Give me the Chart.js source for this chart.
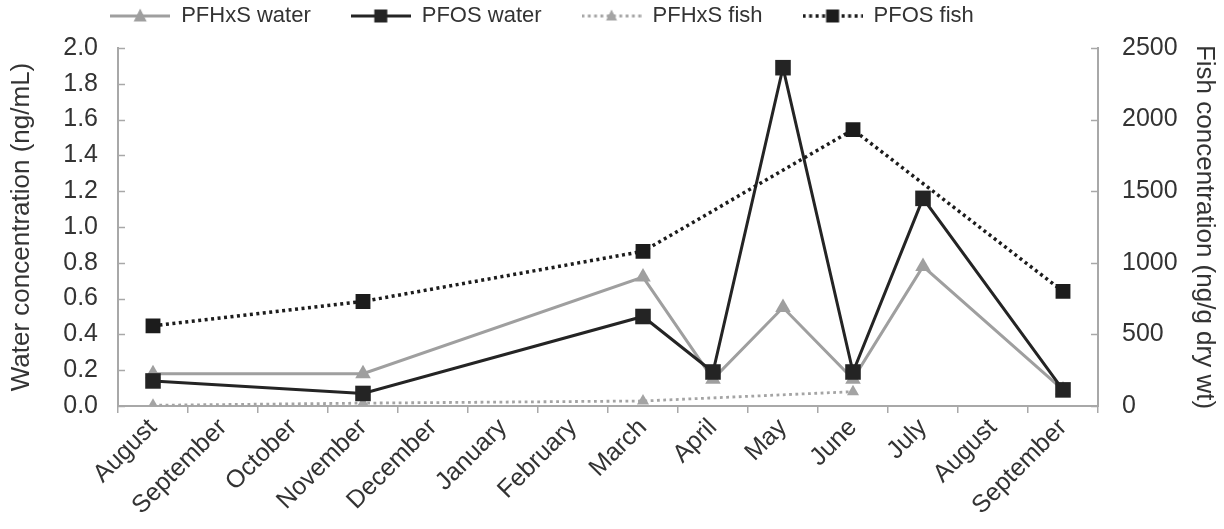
<!DOCTYPE html>
<html>
<head>
<meta charset="utf-8">
<script src="https://cdn.jsdelivr.net/npm/chart.js@4"></script>
<style>
  html, body { margin: 0; padding: 0; background: #fff; }
  #wrap { width: 1224px; height: 529px; }
</style>
</head>
<body>
<div id="wrap"><canvas id="c" width="1224" height="529"></canvas></div>
<script>
const categories = ['August','September','October','November','December','January','February','March','April','May','June','July','August','September'];
const pfhxsWater = [0.18, null, null, 0.18, null, null, null, 0.72, 0.15, 0.55, 0.15, 0.78, null, 0.09];
const pfosWater  = [0.14, null, null, 0.07, null, null, null, 0.50, 0.19, 1.89, 0.19, 1.16, null, 0.09];
const pfhxsFish  = [5, null, null, 20, null, null, null, 35, null, null, 100, null, null, null];
const pfosFish   = [560, null, null, 730, null, null, null, 1080, null, null, 1930, null, null, 800];
const seriesNames = ['PFHxS water', 'PFOS water', 'PFHxS fish', 'PFOS fish'];
const leftTitle = 'Water concentration (ng/mL)';
const rightTitle = 'Fish concentration (ng/g dry wt)';

const FONT = '"Liberation Sans", Arial, sans-serif';
const TEXT = '#333333';
const AXIS = '#a8a8a8';
const TICK_SIZE = 25;
const TITLE_SIZE = 26;
const LEGEND_PAD = 40;

function legendIcon(color, width, dash, shape, r) {
  const cv = document.createElement('canvas');
  cv.width = 60; cv.height = 18;
  const g = cv.getContext('2d');
  g.strokeStyle = color; g.lineWidth = width; g.setLineDash(dash);
  g.beginPath(); g.moveTo(0, 9); g.lineTo(60, 9); g.stroke();
  g.setLineDash([]);
  g.fillStyle = color;
  g.beginPath();
  if (shape === 'rect') {
    g.rect(30 - r, 9 - r, 2 * r, 2 * r);
  } else {
    g.moveTo(30, 9 - r - 1); g.lineTo(30 + r, 9 + r - 1); g.lineTo(30 - r, 9 + r - 1); g.closePath();
  }
  g.fill();
  return cv;
}

const styles = [
  { color: '#9f9f9f', width: 3, dash: [], shape: 'triangle', radius: 9, lr: 6.5 },
  { color: '#242424', width: 3, dash: [], shape: 'rect', radius: 11, lr: 6.5 },
  { color: '#a4a4a4', width: 2.8, dash: [2.8, 3.5], shape: 'triangle', radius: 7, lr: 5.5 },
  { color: '#1c1c1c', width: 3.5, dash: [3, 3.5], shape: 'rect', radius: 10.5, lr: 6.5 }
];
const icons = styles.map(s => legendIcon(s.color, s.width, s.dash, s.shape, s.lr));

const inwardTicks = {
  id: 'inwardTicks',
  afterDraw(chart) {
    const ctx = chart.ctx;
    ctx.save();
    ctx.strokeStyle = AXIS; ctx.lineWidth = 1.5;
    const y = chart.scales.y, y2 = chart.scales.y2;
    y.ticks.forEach(t => {
      const p = Math.round(y.getPixelForValue(t.value)) + 0.5;
      ctx.beginPath(); ctx.moveTo(y.right, p); ctx.lineTo(y.right + 7, p); ctx.stroke();
    });
    y2.ticks.forEach(t => {
      const p = Math.round(y2.getPixelForValue(t.value)) + 0.5;
      ctx.beginPath(); ctx.moveTo(y2.left, p); ctx.lineTo(y2.left - 7, p); ctx.stroke();
    });
    ctx.restore();
  }
};

const legendPlacement = {
  id: 'legendPlacement',
  beforeLayout(chart) {
    const lg = chart.legend;
    if (lg && !lg._patchedFit) {
      const orig = lg.fit.bind(lg);
      lg.fit = function () { orig(); this.height = 48; };
      lg._patchedFit = true;
    }
  },
  afterLayout(chart) {
    const lg = chart.legend;
    if (lg) {
      lg.right -= 140;
      lg.top = -35;
      lg.bottom = 44;
    }
  }
};

const datasets = [
  { label: seriesNames[0], data: pfhxsWater, yAxisID: 'y' },
  { label: seriesNames[1], data: pfosWater, yAxisID: 'y' },
  { label: seriesNames[2], data: pfhxsFish, yAxisID: 'y2' },
  { label: seriesNames[3], data: pfosFish, yAxisID: 'y2' }
].map((d, i) => {
  const s = styles[i];
  return Object.assign(d, {
    borderColor: s.color, backgroundColor: s.color,
    borderWidth: s.width, borderDash: s.dash,
    pointStyle: s.shape, pointRadius: s.radius, pointHoverRadius: s.radius,
    pointBackgroundColor: s.color, pointBorderColor: s.color, pointBorderWidth: 0,
    spanGaps: true, tension: 0, fill: false,
    order: [3, 2, 4, 1][i]
  });
});

new Chart(document.getElementById('c'), {
  type: 'line',
  data: { labels: categories, datasets },
  options: {
    responsive: false,
    animation: false,
    devicePixelRatio: 1,
    layout: { padding: { top: 0, left: 0, right: 0, bottom: 0 } },
    plugins: {
      tooltip: { enabled: false },
      legend: {
        position: 'top',
        align: 'center',
        labels: {
          usePointStyle: true,
          pointStyleWidth: 60,
          padding: LEGEND_PAD,
          color: TEXT,
          font: { family: FONT, size: 22 },
          generateLabels(chart) {
            return chart.data.datasets.map((ds, i) => ({
              text: ds.label, pointStyle: icons[i], datasetIndex: i,
              fillStyle: ds.borderColor, strokeStyle: ds.borderColor, lineWidth: 0,
              fontColor: TEXT, hidden: false
            }));
          }
        }
      }
    },
    scales: {
      x: {
        type: 'category',
        offset: true,
        grid: { display: true, drawOnChartArea: false, drawTicks: true, tickLength: 7, color: AXIS, lineWidth: 1.5, offset: true },
        border: { display: true, color: AXIS, width: 2 },
        ticks: { color: TEXT, font: { family: FONT, size: TICK_SIZE }, minRotation: 45, maxRotation: 45, padding: 0, autoSkip: false },
        afterFit(s) { s.height = 123; }
      },
      y: {
        position: 'left',
        min: 0, max: 2.0,
        ticks: { stepSize: 0.2, color: TEXT, font: { family: FONT, size: TICK_SIZE }, padding: 20,
          callback: v => Number(v).toFixed(1) },
        grid: { display: true, drawOnChartArea: false, drawTicks: false },
        border: { display: true, color: AXIS, width: 2 },
        title: { display: true, text: leftTitle, color: TEXT, font: { family: FONT, size: TITLE_SIZE }, padding: { top: 6, bottom: 4 } },
        afterFit(s) { s.width = 118; }
      },
      y2: {
        position: 'right',
        min: 0, max: 2500,
        ticks: { stepSize: 500, color: TEXT, font: { family: FONT, size: TICK_SIZE }, padding: 24,
          callback: v => String(v) },
        grid: { display: true, drawOnChartArea: false, drawTicks: false },
        border: { display: true, color: AXIS, width: 2 },
        title: { display: true, text: rightTitle, color: TEXT, font: { family: FONT, size: TITLE_SIZE }, padding: { top: 4, bottom: 3 } },
        afterFit(s) { s.width = 126; }
      }
    }
  },
  plugins: [inwardTicks, legendPlacement]
});
</script>
</body>
</html>
